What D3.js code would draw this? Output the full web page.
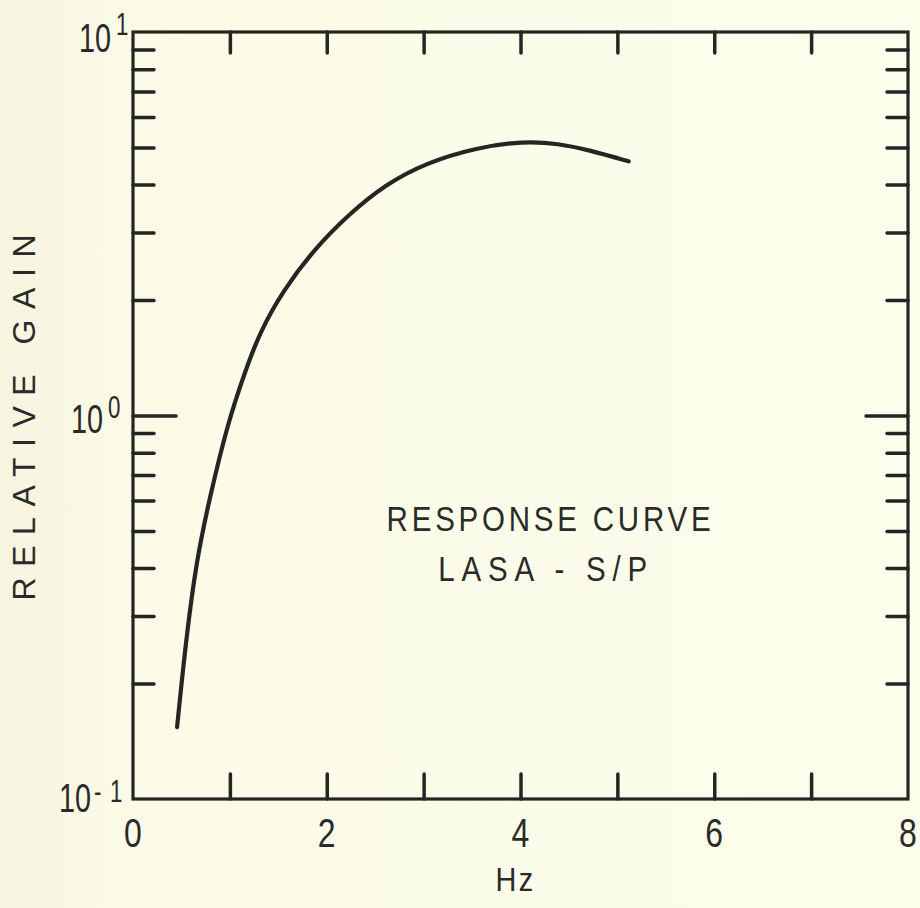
<!DOCTYPE html>
<html>
<head>
<meta charset="utf-8">
<script src="https://cdn.jsdelivr.net/npm/d3@7"></script>
<style>
  html, body { margin: 0; padding: 0; background: #fcfce9; }
  svg { display: block; }
  text { font-family: "Liberation Sans", "DejaVu Sans", sans-serif; fill: #2a2a28; }
</style>
</head>
<body>
<svg id="chart" width="920" height="908"></svg>
<script>
// ---- data ----
const freqHz = [0.455, 0.55, 0.655, 0.787, 0.98, 1.156, 1.314, 1.551, 1.867, 2.235, 2.604, 3.025, 3.551, 4.025, 4.394, 4.71, 5.116];
const relGain = [0.154, 0.264, 0.418, 0.604, 0.96, 1.30, 1.66, 2.12, 2.71, 3.36, 4.00, 4.56, 5.00, 5.19, 5.12, 4.92, 4.60];
const xTickLabels = [0, 2, 4, 6, 8];
const xInnerTicks = [1, 2, 3, 4, 5, 6, 7];
const yDecades = [{v: 10, exp: "1"}, {v: 1, exp: "0"}, {v: 0.1, exp: "-1"}];
const annotation = ["RESPONSE CURVE", "LASA - S/P"];
const xTitle = "Hz";
const yTitle = "RELATIVE GAIN";

const ink = "#252523";
const svg = d3.select("#chart");

// background
const defs = svg.append("defs");
const grad = defs.append("linearGradient").attr("id", "bg").attr("x1", 0).attr("x2", 1).attr("y1", 0).attr("y2", 0);
grad.append("stop").attr("offset", 0).attr("stop-color", "#f7f4df");
grad.append("stop").attr("offset", 0.12).attr("stop-color", "#fafae7");
grad.append("stop").attr("offset", 1).attr("stop-color", "#fdfdec");
svg.append("rect").attr("width", 920).attr("height", 908).attr("fill", "url(#bg)");

const L = 133, R = 908, T = 32, B = 799;
const x = d3.scaleLinear().domain([0, 8]).range([L, R]);
const y = d3.scaleLog().domain([0.1, 10]).range([B, T]);

// inward ticks via d3 axes
const minorY = y.ticks().filter(v => v > 0.1 && v < 10 && Math.abs(v - 1) > 1e-9);

function styleAxis(g) {
  g.select(".domain").remove();
  g.selectAll(".tick line").attr("stroke", ink).attr("stroke-width", 3.5).attr("stroke-linecap", "round");
  g.selectAll(".tick text").remove();
}

svg.append("g").attr("transform", `translate(0,${B})`)
  .call(d3.axisBottom(x).tickValues(xInnerTicks).tickSize(-25).tickFormat(""))
  .call(styleAxis);
svg.append("g").attr("transform", `translate(0,${T})`)
  .call(d3.axisTop(x).tickValues(xInnerTicks).tickSize(-21).tickFormat(""))
  .call(styleAxis);
svg.append("g").attr("transform", `translate(${L},0)`)
  .call(d3.axisLeft(y).tickValues(minorY).tickSize(-21).tickFormat(""))
  .call(styleAxis);
svg.append("g").attr("transform", `translate(${L},0)`)
  .call(d3.axisLeft(y).tickValues([1]).tickSize(-43).tickFormat(""))
  .call(styleAxis);
svg.append("g").attr("transform", `translate(${R},0)`)
  .call(d3.axisRight(y).tickValues(minorY).tickSize(-21).tickFormat(""))
  .call(styleAxis);
svg.append("g").attr("transform", `translate(${R},0)`)
  .call(d3.axisRight(y).tickValues([1]).tickSize(-42).tickFormat(""))
  .call(styleAxis);

// frame
svg.append("rect")
  .attr("x", x(0)).attr("y", y(10))
  .attr("width", x(8) - x(0)).attr("height", y(0.1) - y(10))
  .attr("fill", "none").attr("stroke", ink).attr("stroke-width", 3.2);

// x tick labels
svg.append("g").selectAll("text").data(xTickLabels).join("text")
  .attr("transform", d => `translate(${x(d)},${B + 48}) scale(0.8,1)`)
  .attr("text-anchor", "middle")
  .attr("font-size", 40)
  .text(d => d);

// y decade labels
const labelPos = {"1": {ex: 111, by: 20, ed: -17}, "0": {ex: 103, by: 17, ed: -15}, "-1": {ex: 91, by: 13, ed: -10}};
const yl = svg.append("g").selectAll("g").data(yDecades).join("g")
  .attr("transform", d => `translate(${labelPos[d.exp].ex},${y(d.v) + labelPos[d.exp].by})`);
yl.append("text")
  .attr("transform", "scale(0.72,1)")
  .attr("text-anchor", "end")
  .attr("font-size", 40)
  .text("10");
yl.append("text")
  .attr("transform", d => `translate(${d.exp === "-1" ? 3 : 5},${labelPos[d.exp].ed}) scale(0.72,1)`)
  .attr("text-anchor", "start")
  .attr("font-size", 31)
  .attr("letter-spacing", d => d.exp === "-1" ? 12 : 0)
  .text(d => d.exp);

// axis titles
svg.append("text")
  .attr("transform", `translate(${x(3.95)},${B + 92}) scale(0.85,1)`)
  .attr("text-anchor", "middle")
  .attr("font-size", 34)
  .attr("letter-spacing", 3)
  .text(xTitle);

svg.append("text")
  .attr("transform", `translate(35,${y(1) + 2}) rotate(-90)`)
  .attr("text-anchor", "middle")
  .attr("font-size", 32)
  .attr("textLength", 366)
  .attr("lengthAdjust", "spacing")
  .text(yTitle);

// annotation
svg.append("g").selectAll("text").data(annotation).join("text")
  .attr("transform", (d, i) => `translate(${i === 0 ? x(4.29) : x(4.23)},${531 + i * 50}) scale(0.82,1)`)
  .attr("text-anchor", "middle")
  .attr("font-size", 36)
  .attr("textLength", (d, i) => (i === 0 ? 324 : 209) / 0.82)
  .attr("lengthAdjust", "spacing")
  .text(d => d);

// curve
const pts = freqHz.map((f, i) => [f, relGain[i]]);
svg.append("path")
  .datum(pts)
  .attr("d", d3.line().x(d => x(d[0])).y(d => y(d[1])).curve(d3.curveBasis))
  .attr("fill", "none")
  .attr("stroke", ink)
  .attr("stroke-width", 4.2)
  .attr("stroke-linecap", "round")
  .attr("stroke-linejoin", "round");
</script>
</body>
</html>
